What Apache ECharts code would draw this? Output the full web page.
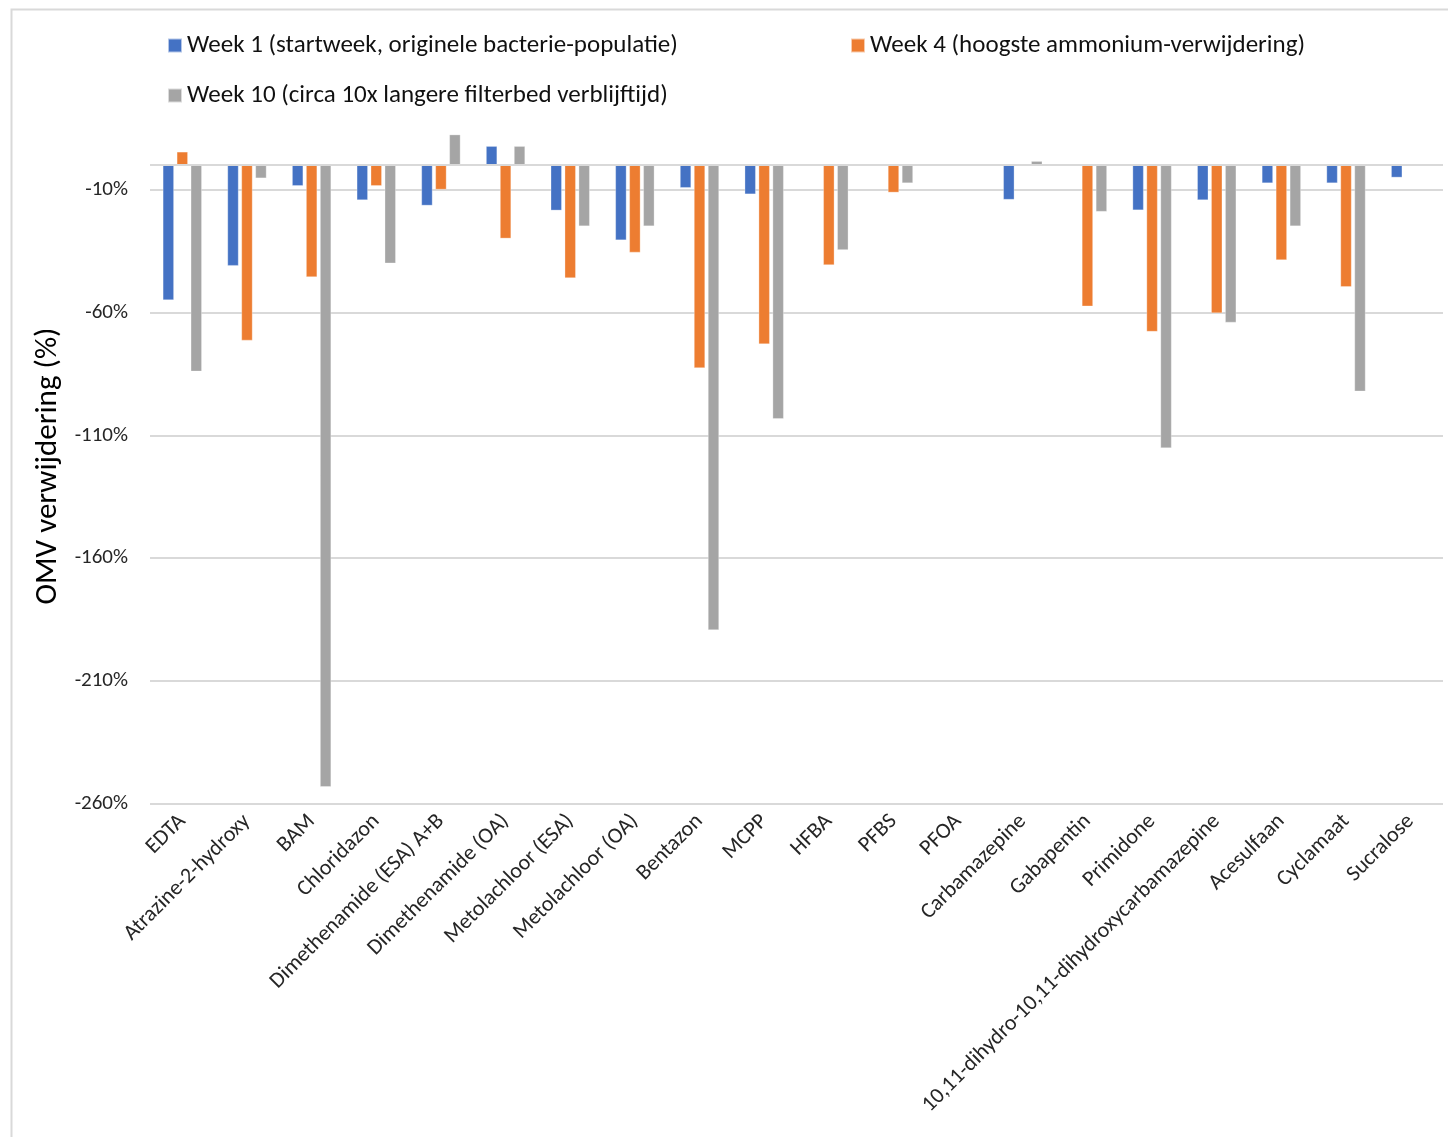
<!DOCTYPE html>
<html>
<head>
<meta charset="utf-8">
<script src="https://cdn.jsdelivr.net/npm/echarts@6/dist/echarts.min.js"></script>
<style>
  html, body { margin: 0; padding: 0; background: #ffffff; }
  #chart { width: 1448px; height: 1137px; }
</style>
</head>
<body>
<div id="chart"></div>
<script>
// Stoffen (categorieën) op de x-as
const categories = [
  'EDTA', 'Atrazine-2-hydroxy', 'BAM', 'Chloridazon', 'Dimethenamide (ESA) A+B',
  'Dimethenamide (OA)', 'Metolachloor (ESA)', 'Metolachloor (OA)', 'Bentazon', 'MCPP',
  'HFBA', 'PFBS', 'PFOA', 'Carbamazepine', 'Gabapentin', 'Primidone',
  '10,11-dihydro-10,11-dihydroxycarbamazepine', 'Acesulfaan', 'Cyclamaat', 'Sucralose'
];

// Seriesnamen (legenda)
const seriesNames = [
  'Week 1 (startweek, originele bacterie-populatie)',
  'Week 4 (hoogste ammonium-verwijdering)',
  'Week 10 (circa 10x langere filterbed verblijftijd)'
];

// OMV verwijdering (%) per stof; null = geen waarde
const week1 = [-55, -41, -8.5, -14.3, -16.5, 7.6, -18.5, -30.6, -9.3, -11.9,
  null, null, null, -14.1, null, -18.4, -14.3, -7.4, -7.4, -5.1];
const week4 = [5.3, -71.4, -45.6, -8.5, -10, -29.9, -46, -35.6, -82.6, -72.9,
  -40.7, -11.2, null, null, -57.5, -67.8, -60.3, -38.7, -49.6, null];
const week10 = [-84, -5.4, -253, -40, 12.3, 7.6, -24.9, -24.9, -189.2, -103.3,
  -34.6, -7.4, null, 1.5, -19, -115.2, -64.1, -24.9, -92.1, null];

// As-instellingen
const yMin = -260;
const yMax = 15;
const yStep = 50;

const colors = ['#4472C4', '#ED7D31', '#A5A5A5'];
const font = 'Carlito, Lato, "Open Sans", sans-serif';

const chart = echarts.init(document.getElementById('chart'), null, { renderer: 'canvas' });

function barSeries(name, data, color) {
  return {
    name: name,
    type: 'bar',
    data: data,
    barWidth: 11,
    barGap: '27%',
    itemStyle: { color: color, borderColor: 'rgba(255,255,255,0.6)', borderWidth: 0.5 }
  };
}

const series = [
  barSeries(seriesNames[0], week1, colors[0]),
  barSeries(seriesNames[1], week4, colors[1]),
  barSeries(seriesNames[2], week10, colors[2])
];

// nullijn
series[0].markLine = {
  silent: true,
  symbol: 'none',
  label: { show: false },
  lineStyle: { color: '#d9d9d9', width: 2, type: 'solid' },
  data: [{ yAxis: 0 }]
};

const legendText = { fontFamily: font, fontSize: 25, color: '#111111' };

chart.setOption({
  animation: false,
  backgroundColor: '#ffffff',
  color: colors,
  graphic: [{
    type: 'rect',
    left: 9, top: 7,
    shape: { width: 1500, height: 1200 },
    style: { fill: 'none', stroke: '#d9d9d9', lineWidth: 2 },
    silent: true
  }],
  legend: [
    {
      data: [seriesNames[0], seriesNames[2]],
      orient: 'vertical',
      left: 162, top: 28,
      itemWidth: 14, itemHeight: 14, itemGap: 25,
      icon: 'rect',
      textStyle: legendText
    },
    {
      data: [seriesNames[1]],
      orient: 'horizontal',
      left: 845, top: 28,
      itemWidth: 14, itemHeight: 14,
      icon: 'rect',
      textStyle: legendText
    }
  ],
  grid: { left: 150, right: 5, top: 128, bottom: 333, containLabel: false },
  xAxis: {
    type: 'category',
    data: categories,
    axisLine: { show: false, onZero: false },
    axisTick: { show: false },
    axisLabel: {
      interval: 0,
      rotate: 45,
      margin: 14,
      fontFamily: font,
      fontSize: 22,
      color: '#262626'
    }
  },
  yAxis: {
    type: 'value',
    min: yMin,
    max: yMax,
    interval: yStep,
    name: 'OMV verwijdering (%)',
    nameLocation: 'middle',
    nameGap: 82,
    nameTextStyle: { fontFamily: font, fontSize: 31, color: '#000000' },
    axisLine: { show: false },
    axisTick: { show: false },
    axisLabel: {
      formatter: '{value}%',
      margin: 22,
      fontFamily: font,
      fontSize: 21,
      color: '#262626',
      showMaxLabel: false
    },
    splitLine: {
      show: true,
      showMaxLine: false,
      lineStyle: { color: '#d9d9d9', width: 2 }
    }
  },
  series: series
});
</script>
</body>
</html>
